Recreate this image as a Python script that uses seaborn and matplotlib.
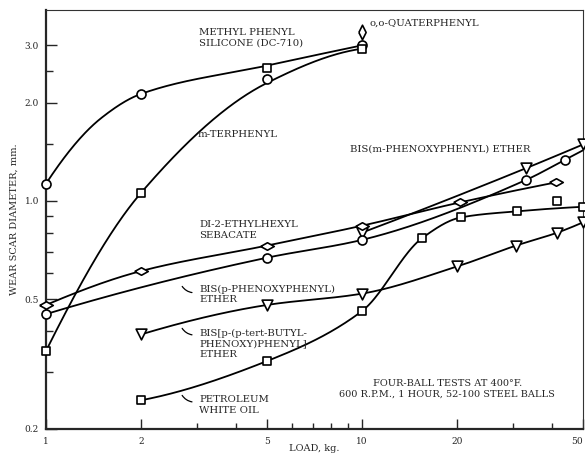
import numpy as np
import matplotlib
matplotlib.use("Agg")
import matplotlib.pyplot as plt
import seaborn as sns
from matplotlib.ticker import FixedLocator, FixedFormatter, NullFormatter

# load (kg) vs wear scar diameter (mm)
silicone_x = [1, 2, 5, 10]
silicone_y = [1.13, 2.13, 2.37, 3.0]
# the drawn curve (runs above the 5 kg point)
silicone_line_x = [1, 1.5, 2, 5, 10]
silicone_line_y = [1.13, 1.8, 2.13, 2.6, 3.0]

terphenyl_x = [1, 2, 5, 10]
terphenyl_y = [0.347, 1.06, 2.56, 2.93]
terphenyl_line_y = [0.347, 1.06, 2.3, 2.93]

quaterphenyl_x = [10]
quaterphenyl_y = [3.3]

m_ether_x = [10, 33, 50]
m_ether_y = [0.80, 1.26, 1.49]

sebacate_x = [1, 2, 5, 10, 20.4, 41]
sebacate_y = [0.48, 0.61, 0.73, 0.84, 0.99, 1.14]

p_ether_x = [1, 5, 10, 33, 44]
p_ether_y = [0.45, 0.67, 0.76, 1.16, 1.34]
p_ether_line_x = [1, 5, 10, 33, 44, 50]
p_ether_line_y = [0.45, 0.67, 0.76, 1.16, 1.34, 1.43]

tbutyl_x = [2, 5, 10, 20, 30.7, 41.5, 50]
tbutyl_y = [0.39, 0.48, 0.52, 0.63, 0.73, 0.80, 0.86]

white_oil_x = [2, 5, 10, 15.5, 20.5, 31, 41.5, 50]
white_oil_y = [0.245, 0.323, 0.46, 0.77, 0.89, 0.93, 1.0, 0.96]
white_oil_line_y = [0.245, 0.323, 0.46, 0.77, 0.89, 0.93, 0.95, 0.96]

x_ticks = [1, 2, 5, 10, 20, 50]
x_tick_labels = ["1", "2", "5", "10", "20", "50"]
x_minor = [3, 4, 6, 7, 8, 9, 30, 40]
y_ticks = [0.2, 0.5, 1.0, 2.0, 3.0]
y_tick_labels = ["0.2", "0.5", "1.0", "2.0", "3.0"]
y_minor = [0.3, 0.4, 0.6, 0.7, 0.8, 0.9, 1.5, 2.5]


def smooth_loglog(xs, ys, n=300):
    """Monotone cubic (PCHIP) curve through the points, in log-log space."""
    lx = np.log10(np.asarray(xs, float))
    ly = np.log10(np.asarray(ys, float))
    h = np.diff(lx)
    d = np.diff(ly) / h
    m = np.zeros_like(lx)
    if len(lx) == 2:
        m[:] = d[0]
    else:
        for k in range(1, len(lx) - 1):
            if d[k - 1] * d[k] > 0:
                w1 = 2 * h[k] + h[k - 1]
                w2 = h[k] + 2 * h[k - 1]
                m[k] = (w1 + w2) / (w1 / d[k - 1] + w2 / d[k])
        # three-point end slopes, kept from overshooting
        for end, (hh0, hh1, dd0, dd1) in ((0, (h[0], h[1], d[0], d[1])),
                                           (-1, (h[-1], h[-2], d[-1], d[-2]))):
            s = ((2 * hh0 + hh1) * dd0 - hh0 * dd1) / (hh0 + hh1)
            if np.sign(s) != np.sign(dd0):
                s = 0.0
            elif np.sign(dd0) != np.sign(dd1) and abs(s) > 3 * abs(dd0):
                s = 3 * dd0
            m[end] = s
    tx = np.linspace(lx[0], lx[-1], n)
    i = np.clip(np.searchsorted(lx, tx) - 1, 0, len(lx) - 2)
    t = (tx - lx[i]) / h[i]
    ty = ((2 * t**3 - 3 * t**2 + 1) * ly[i] + (t**3 - 2 * t**2 + t) * h[i] * m[i]
          + (-2 * t**3 + 3 * t**2) * ly[i + 1] + (t**3 - t**2) * h[i] * m[i + 1])
    return 10**tx, 10**ty


sns.set_style("ticks")
plt.rcParams["font.family"] = ["DejaVu Serif"]

fig = plt.figure(figsize=(5.85, 4.57), dpi=100)
ax = fig.add_axes([46 / 585, 1 - 429 / 457, 537 / 585, 419 / 457])
ax.set_xscale("log")
ax.set_yscale("log")

wide_diamond = [(-1.8, 0), (0, 1), (1.8, 0), (0, -1), (-1.8, 0)]
tall_diamond = [(-0.5, 0), (0, 1), (0.5, 0), (0, -1), (-0.5, 0)]

curves = [
    (silicone_line_x, silicone_line_y),
    (terphenyl_x, terphenyl_line_y),
    (m_ether_x, m_ether_y),
    (sebacate_x, sebacate_y),
    (p_ether_line_x, p_ether_line_y),
    (tbutyl_x, tbutyl_y),
    (white_oil_x, white_oil_line_y),
]
for cx, cy in curves:
    sx, sy = smooth_loglog(cx, cy)
    sns.lineplot(x=sx, y=sy, ax=ax, color="black", lw=1.3, sort=False,
                 estimator=None, zorder=2)

markers = [
    (silicone_x, silicone_y, "o", 42),
    (terphenyl_x, terphenyl_y, "s", 36),
    (quaterphenyl_x, quaterphenyl_y, tall_diamond, 110),
    (m_ether_x, m_ether_y, "v", 60),
    (sebacate_x, sebacate_y, wide_diamond, 95),
    (p_ether_x, p_ether_y, "o", 42),
    (tbutyl_x, tbutyl_y, "v", 60),
    (white_oil_x, white_oil_y, "s", 36),
]
for mx, my, mk, size in markers:
    sns.scatterplot(x=mx, y=my, ax=ax, marker=mk, s=size, color="white",
                    edgecolor="black", linewidth=1.2, zorder=3, clip_on=False)

ax.set_xlim(1, 50)
ax.set_ylim(0.2, 3.85)

ax.xaxis.set_major_locator(FixedLocator(x_ticks))
ax.xaxis.set_major_formatter(FixedFormatter(x_tick_labels))
ax.xaxis.set_minor_locator(FixedLocator(x_minor))
ax.xaxis.set_minor_formatter(NullFormatter())
ax.yaxis.set_major_locator(FixedLocator(y_ticks))
ax.yaxis.set_major_formatter(FixedFormatter(y_tick_labels))
ax.yaxis.set_minor_locator(FixedLocator(y_minor))
ax.yaxis.set_minor_formatter(NullFormatter())

ax.tick_params(which="both", direction="in", width=1.0, labelsize=6.5)
ax.tick_params(axis="x", which="major", length=7, pad=6)
ax.tick_params(axis="x", which="minor", length=4)
ax.tick_params(axis="y", which="major", length=8, pad=5)
ax.tick_params(axis="y", which="minor", length=5)

for side in ["left", "bottom"]:
    ax.spines[side].set_linewidth(1.6)
for side in ["top", "right"]:
    ax.spines[side].set_linewidth(0.8)
    ax.spines[side].set_color("#333333")

ax.set_xlabel("LOAD, kg.", fontsize=7)
ax.set_ylabel("WEAR SCAR DIAMETER, mm.", fontsize=7)
ax.xaxis.set_label_coords(0.5, -0.036)
ax.yaxis.set_label_coords(-0.051, 0.5)

# last x tick label sits against the figure edge, as in the original
fig.canvas.draw()
ax.get_xticklabels()[-1].set_horizontalalignment("right")

label_kw = dict(transform=ax.transAxes, fontsize=7.3, ha="left", va="center",
                linespacing=1.25)
ax.text(0.285, 0.933, "METHYL PHENYL\nSILICONE (DC-710)", **label_kw)
ax.text(0.603, 0.969, "o,o-QUATERPHENYL", **label_kw)
ax.text(0.283, 0.704, "m-TERPHENYL", **label_kw)
ax.text(0.566, 0.668, "BIS(m-PHENOXYPHENYL) ETHER", **label_kw)
ax.text(0.285, 0.475, "DI-2-ETHYLHEXYL\nSEBACATE", **label_kw)
ax.text(0.285, 0.321, "BIS(p-PHENOXYPHENYL)\nETHER", **label_kw)
ax.text(0.285, 0.203, "BIS[p-(p-tert-BUTYL-\nPHENOXY)PHENYL]\nETHER", **label_kw)
ax.text(0.285, 0.058, "PETROLEUM\nWHITE OIL", **label_kw)
ax.text(0.747, 0.096, "FOUR-BALL TESTS AT 400\u00b0F.\n600 R.P.M., 1 HOUR, 52-100 STEEL BALLS",
        transform=ax.transAxes, fontsize=7, ha="center", va="center", linespacing=1.25)

# small hooked leaders from the lower labels to their curves
for y0, y1 in [(0.346, 0.325), (0.246, 0.224), (0.086, 0.064)]:
    ax.annotate("", xy=(0.251, y0), xytext=(0.277, y1), xycoords="axes fraction",
                arrowprops=dict(arrowstyle="-", lw=0.9, color="black",
                                connectionstyle="arc3,rad=-0.3"))

fig.savefig("out.png", dpi=100)
